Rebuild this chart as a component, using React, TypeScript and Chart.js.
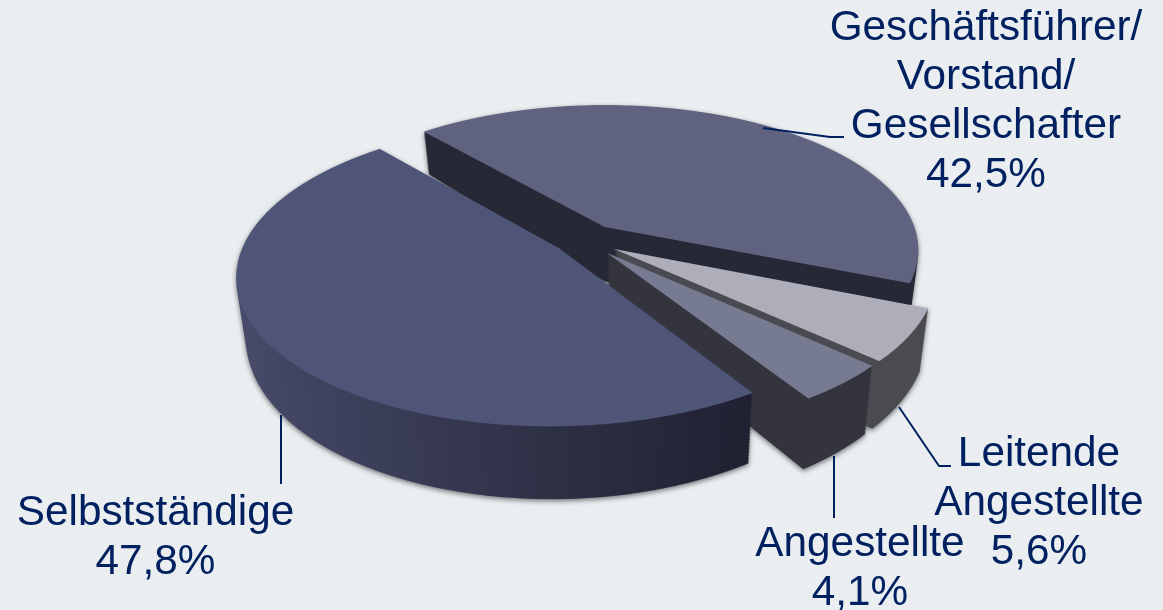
import React, { useEffect, useRef } from "react";
import { Chart, registerables } from "chart.js";

Chart.register(...registerables);

// Shares per occupational group, in drawing order from the back of the pie to the front.
const groupLines = [
  ["Geschäftsführer/", "Vorstand/", "Gesellschafter"],
  ["Leitende", "Angestellte"],
  ["Angestellte"],
  ["Selbstständige"],
];
const shareValues = [42.5, 5.6, 4.1, 47.8];
const topColors = ["#60637f", "#aeaeba", "#777b92", "#4f5577"];
const sideStops = [
  ["#262836", "#262836"],
  ["#4a4b50", "#4a4b50"],
  ["#34343e", "#34343e"],
  ["#4b4f6e", "#1d1f2e"],
];
const explodeFractions = [0.113, 0.113, 0.112, 0.095];

const labelCenters = [986, 1039, 860, 155.5];
const labelBaselines = [40, 466, 556, 525];
const lineHeight = 49;
const leaderPaths = [
  [[763, 128], [830, 137], [844, 137]],
  [[899, 407], [939, 466], [951, 466]],
  [[834, 456], [834, 518]],
  [[281, 415], [281, 484]],
];

const WIDTH = 1163;
const HEIGHT = 610;
const INK = "#002060";
const PAGE = "#eaeef1";

// Camera model for the tilted disc: u, v are disc coordinates in radii.
const view = {
  x0: 609, y0: 250, ax: 318, by: 149, persp: 0.165,
  cu: -0.08, cv: -0.067,
  depthMid: 57, depthSlope: 16, shrink: 0.026,
};
const SS = 2;
const FLAT = 2;
const LAYERS = 48;

const screenY = (v: number, t: number) =>
  view.y0 + (view.by * v) / (1 - view.persp * v) + t * (view.depthMid + view.depthSlope * v);

function invertY(y: number, t: number) {
  let lo = -1.6;
  let hi = 1.6;
  for (let k = 0; k < 22; k++) {
    const mid = (lo + hi) / 2;
    if (screenY(mid, t) < y) lo = mid;
    else hi = mid;
  }
  return (lo + hi) / 2;
}

function makeCanvas(w: number, h: number) {
  const c = document.createElement("canvas");
  c.width = w;
  c.height = h;
  return c;
}

function flatSlice(arc: any, R: number, fraction: number, fill: (g: CanvasRenderingContext2D) => any) {
  const half = Math.ceil(1.3 * R * FLAT);
  const c = makeCanvas(half * 2, half * 2);
  const g = c.getContext("2d", { willReadFrequently: true }) as CanvasRenderingContext2D;
  const mid = (arc.startAngle + arc.endAngle) / 2;
  g.translate(half, half);
  g.scale(FLAT, FLAT);
  g.translate(view.cu * R - arc.x + Math.cos(mid) * fraction * R, view.cv * R - arc.y + Math.sin(mid) * fraction * R);
  const shaped = Object.create(arc);
  shaped.options = { ...arc.options, backgroundColor: fill(g), borderWidth: 0, offset: 0 };
  shaped.draw(g);
  return { canvas: c, half };
}

function rowExtents(c: HTMLCanvasElement) {
  const g = c.getContext("2d") as CanvasRenderingContext2D;
  const { data, width, height } = g.getImageData(0, 0, c.width, c.height);
  const min = new Int32Array(height).fill(-1);
  const max = new Int32Array(height).fill(-1);
  let first = height;
  let last = -1;
  for (let y = 0; y < height; y++) {
    for (let x = 0; x < width; x++) {
      if (data[(y * width + x) * 4 + 3] > 0) {
        if (min[y] < 0) min[y] = x;
        max[y] = x;
      }
    }
    if (min[y] >= 0) {
      if (y < first) first = y;
      last = y;
    }
  }
  return { min, max, first, last };
}

// Projects one flat slice image row by row on to the tilted plane at height t.
function project(out: CanvasRenderingContext2D, src: HTMLCanvasElement, ext: any, half: number, R: number, t: number) {
  const scale = R * FLAT;
  const toV = (s: number) => (s - half) / scale;
  const top = Math.floor(screenY(toV(ext.first), t) * SS) - 1;
  const bottom = Math.ceil(screenY(toV(ext.last + 1), t) * SS) + 1;
  for (let i = top; i < bottom; i++) {
    const v0 = invertY(i / SS, t);
    const v1 = invertY((i + 1) / SS, t);
    const s0 = half + v0 * scale;
    const s1 = half + v1 * scale;
    let lo = -1;
    let hi = -1;
    for (let s = Math.floor(s0); s <= Math.ceil(s1); s++) {
      if (s < 0 || s >= ext.min.length || ext.min[s] < 0) continue;
      if (lo < 0 || ext.min[s] < lo) lo = ext.min[s];
      if (ext.max[s] > hi) hi = ext.max[s];
    }
    if (lo < 0) continue;
    const w = 1 - view.persp * ((v0 + v1) / 2);
    const k = (view.ax / w) * (1 - view.shrink * t);
    const sw = hi - lo + 1;
    const tx = SS * (view.x0 + (k * (lo - half)) / scale);
    const tw = (SS * k * sw) / scale;
    out.drawImage(src, lo, s0, sw, Math.max(s1 - s0, 0.5), tx, i, tw, 1);
  }
}

const pie3d = {
  id: "pie3d",
  beforeDraw(chart: any) {
    const { ctx } = chart;
    ctx.save();
    ctx.fillStyle = PAGE;
    ctx.fillRect(0, 0, WIDTH, HEIGHT);
    ctx.restore();
  },
  beforeDatasetDraw(chart: any) {
    const { ctx } = chart;
    const arcs = chart.getDatasetMeta(0).data;
    const R = arcs[0].outerRadius;
    const scene = makeCanvas(WIDTH * SS, HEIGHT * SS);
    const sg = scene.getContext("2d") as CanvasRenderingContext2D;
    sg.imageSmoothingQuality = "high";

    arcs.forEach((arc: any, idx: number) => {
      const side = flatSlice(arc, R, explodeFractions[idx], (g) => {
        const grad = g.createLinearGradient(-1.15 * R + arc.x - view.cu * R, 0, 0.55 * R + arc.x - view.cu * R, 0);
        grad.addColorStop(0, sideStops[idx][0]);
        grad.addColorStop(1, sideStops[idx][1]);
        return grad;
      });
      const top = flatSlice(arc, R, explodeFractions[idx], () => topColors[idx]);
      const ext = rowExtents(top.canvas);
      for (let l = LAYERS; l >= 1; l--) {
        project(sg, side.canvas, ext, side.half, R, l / LAYERS);
      }
      project(sg, top.canvas, ext, top.half, R, 0);
    });

    ctx.save();
    ctx.imageSmoothingQuality = "high";
    ctx.shadowColor = "rgba(0,0,0,0.5)";
    ctx.shadowBlur = 5;
    ctx.shadowOffsetX = 0;
    ctx.shadowOffsetY = 2;
    ctx.drawImage(scene, 0, 0, WIDTH, HEIGHT);
    ctx.restore();
    return false;
  },
  afterDraw(chart: any) {
    const { ctx } = chart;
    ctx.save();
    ctx.strokeStyle = INK;
    ctx.lineWidth = 2;
    ctx.lineJoin = "round";
    leaderPaths.forEach((path) => {
      ctx.beginPath();
      path.forEach(([x, y], i) => (i ? ctx.lineTo(x, y) : ctx.moveTo(x, y)));
      ctx.stroke();
    });
    ctx.fillStyle = INK;
    ctx.font = '42.3px "Liberation Sans"';
    ctx.textAlign = "center";
    ctx.textBaseline = "alphabetic";
    groupLines.forEach((lines, idx) => {
      const percent = shareValues[idx].toFixed(1).replace(".", ",") + "%";
      [...lines, percent].forEach((text, row) => {
        ctx.fillText(text, labelCenters[idx], labelBaselines[idx] + row * lineHeight);
      });
    });
    ctx.restore();
  },
};

export default function App() {
  const ref = useRef<HTMLCanvasElement>(null);
  useEffect(() => {
    document.body.style.background = PAGE;
    const chart = new Chart(ref.current as HTMLCanvasElement, {
      type: "pie",
      data: {
        labels: groupLines.map((l) => l.join(" ")),
        datasets: [{ data: shareValues, backgroundColor: topColors, borderWidth: 0 }],
      },
      options: {
        responsive: false,
        animation: false,
        rotation: 319,
        layout: { padding: 0 },
        plugins: { legend: { display: false }, tooltip: { enabled: false } },
      },
      plugins: [pie3d],
    } as any);
    return () => chart.destroy();
  }, []);
  return (
    <canvas
      ref={ref}
      width={WIDTH}
      height={HEIGHT}
      style={{ position: "fixed", left: 0, top: 0, display: "block" }}
    />
  );
}
